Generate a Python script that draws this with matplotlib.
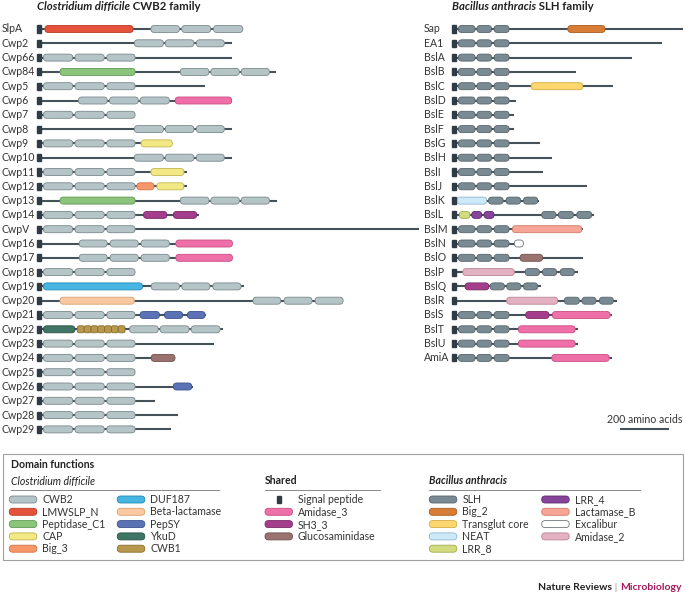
import matplotlib
matplotlib.use("Agg")
import matplotlib.pyplot as plt
from matplotlib.patches import FancyBboxPatch, Rectangle

plt.rcParams['font.family'] = ['Lato', 'DejaVu Sans']

W, H = 685, 596
PX_AA = 0.2465   # pixels per amino acid (200 aa scale bar ~49 px)
ROW = 14.3       # pixels per protein row
TOP_ROW = 29     # pixel y of first row

# domain colours: (face, edge)
colours = {
    'CWB2': ('#b5c4c6', '#7b898c'),
    'LMWSLP_N': ('#e4523b', '#b93a26'),
    'Peptidase_C1': ('#8dc47c', '#5f9a55'),
    'CAP': ('#f2e985', '#c2b64e'),
    'Big_3': ('#f6976a', '#d37045'),
    'DUF187': ('#47b5e2', '#2288b8'),
    'Beta-lactamase': ('#fac9a0', '#d9a172'),
    'PepSY': ('#5b73b5', '#3d5290'),
    'YkuD': ('#3f7565', '#2a5446'),
    'CWB1': ('#b8984e', '#8a6f2c'),
    'Signal peptide': ('#2f3c45', '#2f3c45'),
    'Amidase_3': ('#ef70a9', '#c94d84'),
    'SH3_3': ('#a43e8c', '#7a2a66'),
    'Glucosaminidase': ('#9a7370', '#6f504d'),
    'SLH': ('#7a8a93', '#56646b'),
    'Big_2': ('#d77d35', '#aa5d20'),
    'Transglut core': ('#fcd66e', '#d4ac3f'),
    'NEAT': ('#cde9f8', '#8fb7cc'),
    'LRR_8': ('#d2dc7e', '#a0aa4f'),
    'LRR_4': ('#87449b', '#5e2b70'),
    'Lactamase_B': ('#f6a596', '#d27a6a'),
    'Excalibur': ('#ffffff', '#6d7479'),
    'Amidase_2': ('#e4b1c2', '#b98495'),
}
line_c = '#45525a'
text_c = '#333333'

# ---- Clostridium difficile CWB2 family (positions in amino acids) ----
cd_names = ['SlpA', 'Cwp2', 'Cwp66', 'Cwp84', 'Cwp5', 'Cwp6', 'Cwp7', 'Cwp8', 'Cwp9', 'Cwp10',
            'Cwp11', 'Cwp12', 'Cwp13', 'Cwp14', 'CwpV', 'Cwp16', 'Cwp17', 'Cwp18', 'Cwp19', 'Cwp20',
            'Cwp21', 'Cwp22', 'Cwp23', 'Cwp24', 'Cwp25', 'Cwp26', 'Cwp27', 'Cwp28', 'Cwp29']
cd_lengths = [835, 790, 790, 970, 682, 790, 398, 790, 549, 790,
              608, 608, 973, 659, 1550, 793, 793, 398, 838, 1242,
              686, 754, 719, 560, 398, 632, 479, 570, 544]
cwb2_std = [('CWB2', 26, 145), ('CWB2', 154, 273), ('CWB2', 283, 398)]
cwb2_late = [('CWB2', 395, 513), ('CWB2', 520, 637), ('CWB2', 646, 760)]
cd_domains = [
    [('LMWSLP_N', 32, 390), ('CWB2', 462, 578), ('CWB2', 587, 705), ('CWB2', 716, 835)],
    cwb2_late,
    cwb2_std,
    [('Peptidase_C1', 93, 398), ('CWB2', 581, 698), ('CWB2', 705, 821), ('CWB2', 828, 943)],
    cwb2_std,
    [('CWB2', 168, 285), ('CWB2', 294, 411), ('CWB2', 418, 537), ('Amidase_3', 560, 790)],
    cwb2_std,
    cwb2_late,
    cwb2_std + [('CAP', 422, 549)],
    cwb2_late,
    cwb2_std + [('CAP', 462, 596)],
    cwb2_std + [('Big_3', 405, 475), ('CAP', 486, 596)],
    [('Peptidase_C1', 93, 398), ('CWB2', 581, 698), ('CWB2', 705, 821), ('CWB2', 828, 943)],
    cwb2_std + [('SH3_3', 432, 527), ('SH3_3', 553, 648)],
    cwb2_std,
    [('CWB2', 171, 285), ('CWB2', 296, 411), ('CWB2', 422, 537), ('Amidase_3', 563, 793)],
    [('CWB2', 171, 285), ('CWB2', 296, 411), ('CWB2', 422, 537), ('Amidase_3', 563, 793)],
    cwb2_std,
    [('DUF187', 26, 428), ('CWB2', 463, 578), ('CWB2', 587, 702), ('CWB2', 713, 828)],
    [('Beta-lactamase', 93, 395), ('CWB2', 876, 989), ('CWB2', 1002, 1116), ('CWB2', 1128, 1242)],
    cwb2_std + [('PepSY', 418, 497), ('PepSY', 517, 591), ('PepSY', 610, 682)],
    [('YkuD', 26, 154), ('CWB1', 164, 357), ('CWB2', 375, 492), ('CWB2', 499, 617), ('CWB2', 625, 743)],
    cwb2_std,
    cwb2_std + [('Glucosaminidase', 463, 560)],
    cwb2_std,
    cwb2_std + [('PepSY', 553, 628)],
    cwb2_std,
    cwb2_std,
    cwb2_std,
]

# ---- Bacillus anthracis SLH family ----
ba_names = ['Sap', 'EA1', 'BslA', 'BslB', 'BslC', 'BslD', 'BslE', 'BslF', 'BslG', 'BslH', 'BslI', 'BslJ',
            'BslK', 'BslL', 'BslM', 'BslN', 'BslO', 'BslP', 'BslQ', 'BslR', 'BslS', 'BslT', 'BslU', 'AmiA']
ba_lengths = [938, 853, 733, 505, 656, 261, 254, 254, 358, 407, 372, 548,
              356, 579, 534, 291, 534, 514, 363, 670, 652, 512, 512, 650]
slh_std = [('SLH', 27, 95), ('SLH', 102, 162), ('SLH', 172, 233)]
ba_domains = [
    slh_std + [('Big_2', 471, 622)],
    slh_std, slh_std, slh_std,
    slh_std + [('Transglut core', 322, 532)],
    slh_std, slh_std, slh_std, slh_std, slh_std, slh_std, slh_std,
    [('NEAT', 20, 142), ('SLH', 149, 209), ('SLH', 220, 280), ('SLH', 291, 349)],
    [('LRR_8', 31, 74), ('LRR_4', 81, 122), ('LRR_4', 131, 172),
     ('SLH', 365, 423), ('SLH', 433, 494), ('SLH', 507, 568)],
    slh_std + [('Lactamase_B', 246, 528)],
    slh_std + [('Excalibur', 254, 291)],
    slh_std + [('Glucosaminidase', 277, 369)],
    [('Amidase_2', 45, 254), ('SLH', 298, 356), ('SLH', 368, 426), ('SLH', 440, 498)],
    [('SH3_3', 54, 151), ('SLH', 156, 214), ('SLH', 223, 281), ('SLH', 291, 349)],
    [('Amidase_2', 223, 430), ('SLH', 457, 518), ('SLH', 528, 586), ('SLH', 599, 656)],
    slh_std + [('SH3_3', 300, 395), ('Amidase_3', 408, 643)],
    slh_std + [('Amidase_3', 270, 501)],
    slh_std + [('Amidase_3', 270, 501)],
    slh_std + [('Amidase_3', 406, 639)],
]

# legend groups
cd_legend = [['CWB2', 'LMWSLP_N', 'Peptidase_C1', 'CAP', 'Big_3'],
             ['DUF187', 'Beta-lactamase', 'PepSY', 'YkuD', 'CWB1']]
shared_legend = ['Signal peptide', 'Amidase_3', 'SH3_3', 'Glucosaminidase']
ba_legend = [['SLH', 'Big_2', 'Transglut core', 'NEAT', 'LRR_8'],
             ['LRR_4', 'Lactamase_B', 'Excalibur', 'Amidase_2']]

fig = plt.figure(figsize=(W / 100, H / 100), dpi=100)
ASP = PX_AA / ROW
DOM_H = 7.0 / ROW
FS = 7.6


def capsule(ax, x0, x1, y, kind, h, aspect, r=None):
    face, edge = colours[kind]
    if r is None:
        r = min(h / 2 / aspect, (x1 - x0) / 2)
    ax.add_patch(FancyBboxPatch((x0, y - h / 2), x1 - x0, h,
                                boxstyle=f'round,pad=0,rounding_size={r}',
                                mutation_aspect=aspect, fc=face, ec=edge, lw=0.6, zorder=2))


def panel(x0_px, x1_px, origin_px, names, lengths, domains, label_px, title_it, title_rest):
    ax = fig.add_axes([x0_px / W, 1 - 450 / H, (x1_px - x0_px) / W, 450 / H])
    ax.set_xlim((x0_px - origin_px) / PX_AA, (x1_px - origin_px) / PX_AA)
    ax.set_ylim((450 - TOP_ROW) / ROW, -TOP_ROW / ROW)
    ax.axis('off')
    sig_w = 4 / PX_AA
    for i, (name, n, doms) in enumerate(zip(names, lengths, domains)):
        ax.plot([0, n], [i, i], color=line_c, lw=1.5, solid_capstyle='butt', zorder=1)
        ax.add_patch(Rectangle((0, i - 0.25), sig_w, 0.5, color=colours['Signal peptide'][0], zorder=3))
        for kind, s, e in doms:
            if kind == 'CWB1':
                step = (e - s) / 7
                for k in range(7):
                    capsule(ax, s + k * step, s + (k + 1) * step, i, kind, DOM_H, ASP, r=step * 0.25)
            else:
                capsule(ax, s, e, i, kind, DOM_H, ASP)
        ax.text((label_px - origin_px) / PX_AA, i, name, ha='left', va='center',
                fontsize=FS, color=text_c)
    t1 = ax.text(0, (6.5 - TOP_ROW) / ROW, title_it, ha='left', va='center', fontsize=8.2,
                 fontweight='bold', fontstyle='italic', color='#222222')
    ax.annotate(title_rest, xy=(1, 0), xycoords=t1, ha='left', va='bottom', fontsize=8.2,
                fontweight='bold', color='#222222')
    return ax


ax_cd = panel(0, 430, 37, cd_names, cd_lengths, cd_domains, 2,
              'Clostridium difficile', ' CWB2 family')
ax_ba = panel(420, 685, 451.7, ba_names, ba_lengths, ba_domains, 424,
              'Bacillus anthracis', ' SLH family')

# scale bar: 200 amino acids
sb_x = (620 - 451.7) / PX_AA
sb_y = (429 - TOP_ROW) / ROW
ax_ba.plot([sb_x, sb_x + 200], [sb_y, sb_y], color=line_c, lw=1.5, solid_capstyle='butt')
ax_ba.text(sb_x + 100, sb_y - 0.3, '200 amino acids', ha='center', va='bottom',
           fontsize=FS, color=text_c)

# ---- legend box (pixel coordinates) ----
lg = fig.add_axes([0, 0, 1, 1])
lg.set_xlim(0, W)
lg.set_ylim(H, 0)
lg.axis('off')
lg.add_patch(Rectangle((3, 454), 680, 106, fc='none', ec='#a0a0a0', lw=0.8))
lg.text(11, 465, 'Domain functions', fontsize=7.6, fontweight='bold', va='center', color='#222222')
headers = [(11, 219, 'Clostridium difficile', 'normal', 'italic'),
           (265, 380, 'Shared', 'bold', 'normal'),
           (429, 640, 'Bacillus anthracis', 'bold', 'italic')]
for hx0, hx1, htxt, hw, hs in headers:
    lg.text(hx0, 481, htxt, fontsize=7.6, fontweight=hw, fontstyle=hs, va='center', color='#222222')
    lg.plot([hx0, hx1], [489.5, 489.5], color='#8a8a8a', lw=0.7)

row_y0, row_dy = 499.5, 12.3
sw_w, sw_h = 27.5, 7.0


def legend_column(items, sx):
    for j, kind in enumerate(items):
        y = row_y0 + j * row_dy
        if kind == 'Signal peptide':
            lg.add_patch(Rectangle((sx + sw_w / 2 - 2.2, y - 3.5), 4.4, 7,
                                   color=colours[kind][0]))
        else:
            capsule(lg, sx, sx + sw_w, y, kind, sw_h, 1.0)
        lg.text(sx + sw_w + 5.5, y, kind, fontsize=FS, va='center', color=text_c)


legend_column(cd_legend[0], 9.3)
legend_column(cd_legend[1], 117.3)
legend_column(shared_legend, 265)
legend_column(ba_legend[0], 429.3)
legend_column(ba_legend[1], 541.7)

# journal credit
t3 = lg.text(682, 587, 'Microbiology', ha='right', va='center', fontsize=7.5,
             fontweight='bold', color='#a3195b')
t2 = lg.annotate(' | ', xy=(0, 0), xycoords=t3, ha='right', va='bottom', fontsize=7.5,
                 color='#999999')
lg.annotate('Nature Reviews', xy=(0, 0), xycoords=t2, ha='right', va='bottom', fontsize=7.5,
            fontweight='bold', color='#222222')

fig.savefig('out.png', dpi=100)
